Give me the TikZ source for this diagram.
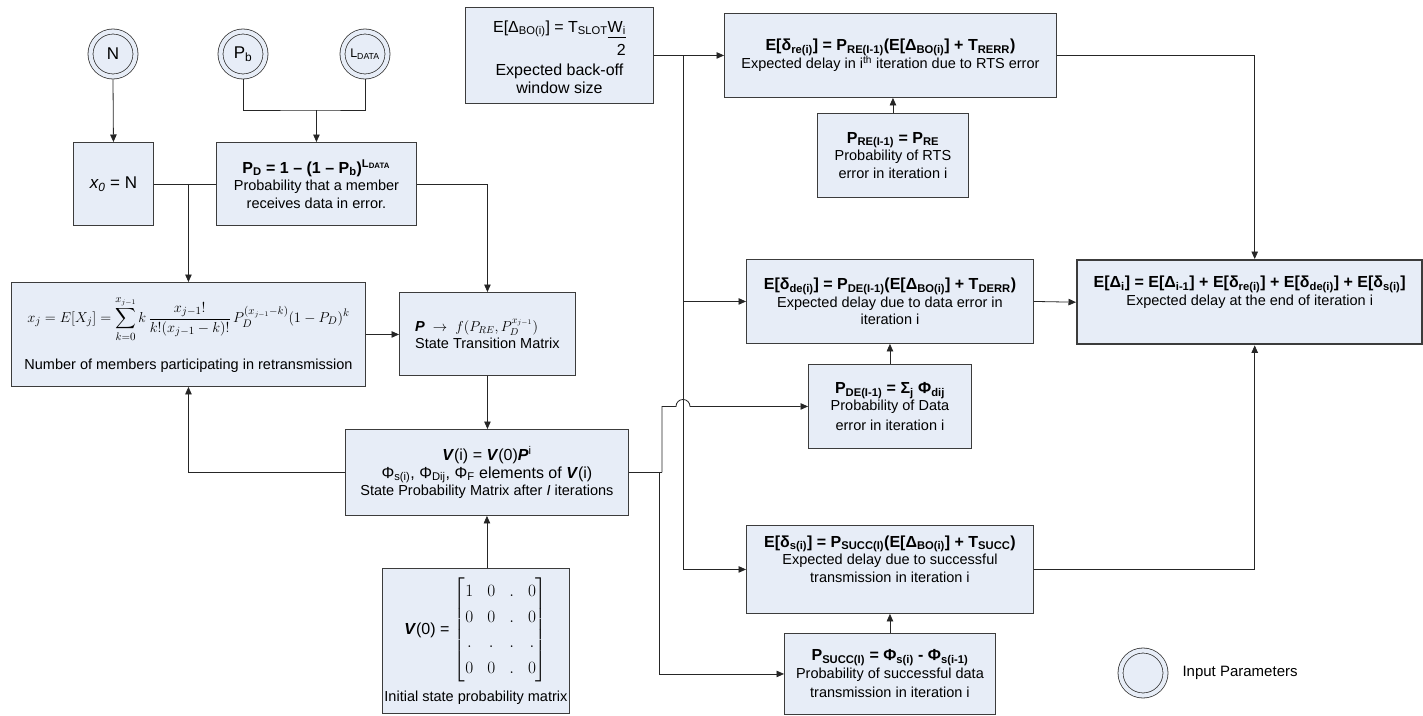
\documentclass[tikz,border=0pt]{standalone}
\usepackage{fontspec}
\setmainfont{Liberation Sans}
\usepackage{amsmath}
\usetikzlibrary{arrows.meta,calc}

\definecolor{boxfill}{RGB}{231,237,247}
\definecolor{edgegray}{RGB}{60,60,60}
\newcommand{\mysub}[1]{\textsubscript{#1}}
\newcommand{\mysup}[1]{\textsuperscript{#1}}
\newcommand{\bV}{\textbf{\textit{V}}}
\newcommand{\bP}{\textbf{\textit{P}}}
\newcommand{\frmfont}{\bfseries\fontsize{16}{18}\selectfont}

\begin{document}
\begin{tikzpicture}[x=1pt,y=-1pt,
  font=\fontsize{14.5}{17.5}\selectfont,
  box/.style={draw=edgegray, fill=boxfill, line width=0.9pt, inner sep=2pt,
              align=center, anchor=north west},
  inp/.style={circle, draw=edgegray, fill=boxfill, line width=0.8pt,
              double=boxfill, double distance=4.2pt, minimum size=45pt,
              inner sep=0pt, outer sep=2.9pt, font=\fontsize{17}{20}\selectfont},
  conn/.style={draw=black!85, line width=0.8pt},
  arr/.style={conn, -{Triangle[length=7.5pt,width=6.5pt]}}]
\useasboundingbox (0,0) rectangle (1423,715);

% input parameters
\node[inp] (n)  at (113,54) {N};
\node[inp] (pb) at (243,54) {P\mysub{b}};
\node[inp, font=\fontsize{12.5}{14}\selectfont] (ld) at (365,54) {L\mysub{DATA}};

% left column
\node[box, minimum width=80pt, minimum height=83pt] (x0) at (73,142)
  {{\fontsize{17}{20}\selectfont\textit{x\mysub{0}} = N}};
\node[box, minimum width=200pt, minimum height=83pt] (pd) at (216,142)
  {{\frmfont P\mysub{D} = 1 – (1 – P\mysub{b})\mysup{L\mysub{DATA}}}\\
   Probability that a member\\ receives data in error.};
\node[box, minimum width=354pt, minimum height=104pt] (xj) at (11,282)
  {{\fontsize{15}{18}\selectfont$\displaystyle x_j = E[X_j] = \sum_{k=0}^{x_{j-1}} k\,\frac{x_{j-1}!}{k!(x_{j-1}-k)!}\,P_D^{(x_{j-1}-k)}(1-P_D)^k$}\\[16pt]
   Number of members participating in retransmission};
\node[box, minimum width=176pt, minimum height=83pt, align=left] (stm) at (399,292)
  {\bP\ \ $\rightarrow\ f(P_{RE}, P_D^{x_{j-1}})$\\ State Transition Matrix};
\node[box, minimum width=283pt, minimum height=86pt] (vi) at (345,429)
  {{\fontsize{16}{21}\selectfont \bV(i) = \bV(0)\bP\mysup{i}}\\
   {\fontsize{16}{21}\selectfont Φ\mysub{s(i)}, Φ\mysub{Dij}, Φ\mysub{F} elements of \bV(i)}\\
   State Probability Matrix after \textit{I} iterations};
\node[box, minimum width=181pt, minimum height=145pt] (v0) at (382,568)
  {{\fontsize{16}{19}\selectfont\renewcommand{\arraystretch}{1.35}\setlength{\arraycolsep}{7pt}%
    \bV(0) = $\left[\begin{matrix}1&0&.&0\\0&0&.&0\\.&.&.&.\\0&0&.&0\end{matrix}\right]$}\\[8pt]
   Initial state probability matrix};

% back-off window and delay components
\node[box, minimum width=188pt, minimum height=96pt] (ebo) at (465,7)
  {{\fontsize{16}{21}\selectfont E[Δ\mysub{BO(i)}] = T\mysub{SLOT}\begin{tabular}[t]{@{}r@{}}\underline{W\mysub{i}}\\[2pt] 2\end{tabular}}\\[2pt]
   {\fontsize{16}{21}\selectfont Expected back-off}\\ {\fontsize{16}{21}\selectfont window size}};
\node[box, minimum width=332pt, minimum height=84pt] (rts) at (724,13)
  {{\frmfont E[δ\mysub{re(i)}] = P\mysub{RE(I-1)}(E[Δ\mysub{BO(i)}] + T\mysub{RERR})}\\
   Expected delay in i\mysup{th} iteration due to RTS error};
\node[box, minimum width=151pt, minimum height=84pt] (pre) at (817,113)
  {{\frmfont P\mysub{RE(I-1)} = P\mysub{RE}}\\ Probability of RTS\\ error in iteration i};
\node[box, minimum width=287pt, minimum height=84pt] (de) at (746,259)
  {{\frmfont E[δ\mysub{de(i)}] = P\mysub{DE(I-1)}(E[Δ\mysub{BO(i)}] + T\mysub{DERR})}\\
   Expected delay due to data error in\\ iteration i};
\node[box, minimum width=163pt, minimum height=84pt] (pde) at (808,364)
  {{\frmfont P\mysub{DE(I-1)} = Σ\mysub{j} Φ\mysub{dij}}\\ Probability of Data\\[2pt] error in iteration i};
\node[box, minimum width=287pt, minimum height=88pt] (s) at (746,525)
  {{\frmfont E[δ\mysub{s(i)}] = P\mysub{SUCC(I)}(E[Δ\mysub{BO(i)}] + T\mysub{SUCC})}\\
   Expected delay due to successful\\ transmission in iteration i\\[4pt]};
\node[box, minimum width=211pt, minimum height=81pt] (psucc) at (784,633)
  {{\frmfont P\mysub{SUCC(I)} = Φ\mysub{s(i)} - Φ\mysub{s(i-1)}}\\
   Probability of successful data\\[2pt] transmission in iteration i};
\node[box, line width=2.4pt, minimum width=345pt, minimum height=84pt] (edelta) at (1076,259)
  {{\frmfont E[Δ\mysub{i}] = E[Δ\mysub{i-1}] + E[δ\mysub{re(i)}] + E[δ\mysub{de(i)}] + E[δ\mysub{s(i)}]}\\
   Expected delay at the end of iteration i\\[6pt]};

% legend
\node[inp] (leg) at (1143,673) {};
\node[anchor=west, font=\fontsize{15}{18}\selectfont] (legtxt) at (1179,673) {Input Parameters};

% connectors on the left
\coordinate (pbj) at (pd.north |- 0,110);
\draw[conn] (pb.south) |- (pbj) -| (ld.south);
\draw[arr] (pbj) -- (pd.north);
\draw[arr] (n.south) -- (x0.north);
\draw[conn] (x0.east) -- (pd.west);
\draw[arr] (xj.north |- x0.east) -- (xj.north);
\draw[arr] (pd.east) -| (stm.north);
\draw[arr] (xj.east) -- (xj.east -| stm.west);
\draw[arr] (stm.south) -- (stm.south |- vi.north);
\draw[arr] (vi.west) -| (xj.south);
\draw[arr] (vi.south |- v0.north) -- (vi.south);

% back-off bus
\coordinate (jb) at (ebo.east -| 683,0);
\draw[arr] (ebo.east) -- (rts.west);
\draw[arr] (jb) |- (s.west);
\draw[arr] (jb |- de.west) -- (de.west);

% state probabilities to the error and success boxes
\coordinate (vj) at (vi.east -| 662,0);
\draw[conn] (vi.east) -- (vj);
\draw[arr] (vj) -- (vj |- pde.west) -- ($(jb |- pde.west)+(-7,0)$) arc (180:360:7) -- (pde.west);
\draw[arr] (vi.east -| 659,0) |- (psucc.west);

\draw[arr] (pre.north) -- (pre.north |- rts.south);
\draw[arr] (pde.north) -- (pde.north |- de.south);
\draw[arr] (psucc.north) -- (psucc.north |- s.south);

% delay components into the total
\coordinate (ejn) at ([xshift=5pt]edelta.north);
\coordinate (ejs) at ([xshift=5pt]edelta.south);
\draw[arr] (rts.east) -| (ejn);
\draw[arr] (de.east) -- (edelta.west);
\draw[arr] (s.east) -| (ejs);
\end{tikzpicture}
\end{document}
